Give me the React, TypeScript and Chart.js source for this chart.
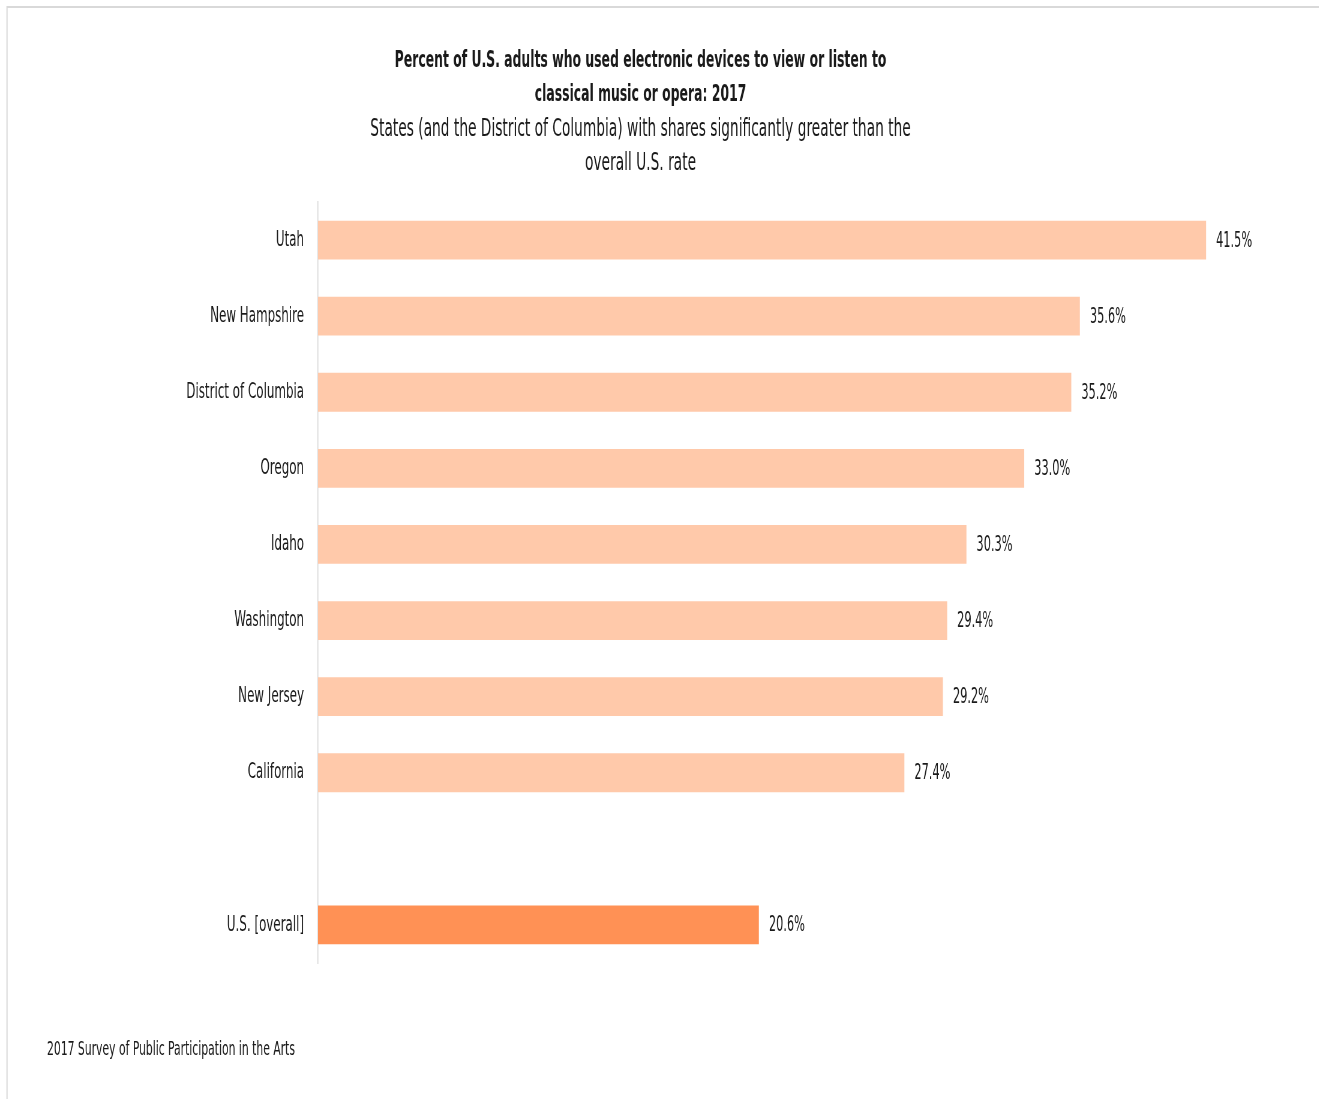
import React, { useEffect, useRef } from "react";
import { Chart, registerables } from "chart.js";

Chart.register(...registerables);

const categories = [
  "Utah",
  "New Hampshire",
  "District of Columbia",
  "Oregon",
  "Idaho",
  "Washington",
  "New Jersey",
  "California",
  "",
  "U.S. [overall]",
];
const values: (number | null)[] = [41.5, 35.6, 35.2, 33.0, 30.3, 29.4, 29.2, 27.4, null, 20.6];
const barColors = [
  "#FFC9AA", "#FFC9AA", "#FFC9AA", "#FFC9AA", "#FFC9AA",
  "#FFC9AA", "#FFC9AA", "#FFC9AA", "#FFC9AA", "#FF9155",
];
const titleLines = [
  "Percent of U.S. adults who used electronic devices to view or listen to",
  "classical music or opera: 2017",
];
const subtitleLines = [
  "States (and the District of Columbia) with shares significantly greater than the",
  "overall U.S. rate",
];
const sourceNote = "2017 Survey of Public Participation in the Arts";

// horizontal condensing factor applied to the whole canvas (mimics the narrow typeface)
const S = 0.6;
const W = Math.round(1319 / S);
const H = 1099;

const FONT = '"Liberation Sans Narrow", "DejaVu Sans Condensed", "Roboto Condensed", "Liberation Sans", sans-serif';
const TEXT = "#1a1a1a";

const framePlugin = {
  id: "frame",
  beforeDraw(chart: any) {
    const ctx = chart.ctx;
    ctx.save();
    ctx.fillStyle = "#ffffff";
    ctx.fillRect(0, 0, chart.width, chart.height);
    ctx.strokeStyle = "#d9d9d9";
    ctx.lineWidth = 2;
    ctx.beginPath();
    ctx.moveTo(7 / S, H + 5);
    ctx.lineTo(7 / S, 7);
    ctx.lineTo(chart.width + 5, 7);
    ctx.stroke();
    ctx.restore();
  },
  afterDraw(chart: any) {
    const ctx = chart.ctx;
    ctx.save();
    ctx.font = `20px ${FONT}`;
    ctx.fillStyle = TEXT;
    ctx.textAlign = "left";
    ctx.textBaseline = "middle";
    ctx.fillText(sourceNote, 47 / S, 1050);
    ctx.restore();
  },
};

const valueLabelPlugin = {
  id: "valueLabels",
  afterDatasetsDraw(chart: any) {
    const ctx = chart.ctx;
    const meta = chart.getDatasetMeta(0);
    ctx.save();
    ctx.font = `21px ${FONT}`;
    ctx.fillStyle = TEXT;
    ctx.textAlign = "left";
    ctx.textBaseline = "middle";
    meta.data.forEach((bar: any, i: number) => {
      const v = values[i];
      if (v == null) return;
      ctx.fillText(v.toFixed(1) + "%", bar.x + 10 / S, bar.y + 1);
    });
    ctx.restore();
  },
};

export default function App() {
  const ref = useRef<HTMLCanvasElement>(null);
  useEffect(() => {
    if (!ref.current) return;
    const chart = new Chart(ref.current, {
      type: "bar",
      data: {
        labels: categories,
        datasets: [
          {
            data: values as any,
            backgroundColor: barColors,
            borderWidth: 0,
            categoryPercentage: 1,
            barPercentage: 0.51,
          },
        ],
      },
      options: {
        indexAxis: "y",
        responsive: false,
        animation: false,
        devicePixelRatio: 1,
        layout: { padding: { top: 44, right: W - 1281 / S, bottom: 136, left: 0 } },
        plugins: {
          legend: { display: false },
          tooltip: { enabled: false },
          title: {
            display: true,
            text: titleLines,
            color: TEXT,
            font: { family: FONT, size: 23, weight: "bold", lineHeight: 34 / 23 },
            padding: { top: 0, bottom: 0 },
          },
          subtitle: {
            display: true,
            text: subtitleLines,
            color: TEXT,
            font: { family: FONT, size: 25.5, weight: "normal", lineHeight: 34 / 25.5 },
            padding: { top: 0, bottom: 22 },
          },
        },
        scales: {
          x: {
            display: false,
            min: 0,
            max: 45,
          },
          y: {
            grid: { display: false, drawTicks: false },
            border: { display: true, color: "#d9d9d9", width: 1.6 },
            ticks: {
              color: TEXT,
              font: { family: FONT, size: 22 },
              padding: 14 / S,
            },
            afterFit(scale: any) {
              scale.width = 318 / S;
            },
          },
        },
      },
      plugins: [framePlugin, valueLabelPlugin],
    });
    return () => chart.destroy();
  }, []);
  return (
    <div
      style={{
        position: "fixed",
        left: 0,
        top: 0,
        width: 1319,
        height: H,
        overflow: "hidden",
        background: "#fff",
      }}
    >
      <div style={{ width: W, height: H, transform: `scaleX(${S})`, transformOrigin: "0 0" }}>
        <canvas ref={ref} width={W} height={H} style={{ display: "block" }} />
      </div>
    </div>
  );
}
